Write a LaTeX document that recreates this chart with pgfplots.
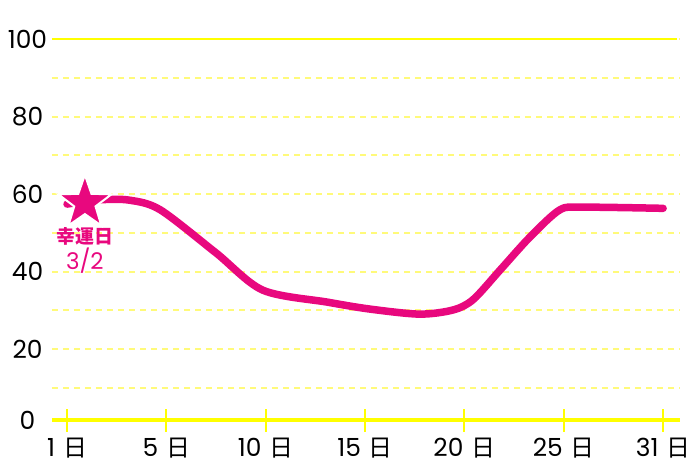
\documentclass[border=0pt]{standalone}
\usepackage{fontspec}
\setmainfont{Poppins}
\newfontfamily\cjk{Noto Sans CJK JP}
\usepackage{pgfplots}
\pgfplotsset{compat=1.18}
\definecolor{pinkc}{HTML}{E8087E}
\definecolor{ylw}{HTML}{FFFF00}
\definecolor{ylwl}{HTML}{FFFA7A}
\newcommand{\nichi}{\hspace{8bp}{\cjk\fontsize{24}{24}\selectfont 日}}
\pgfdeclareplotmark{fstar}{%
  \pgfpathmoveto{\pgfpointpolar{90}{\pgfplotmarksize}}%
  \pgfpathlineto{\pgfpointpolar{126}{0.40\pgfplotmarksize}}%
  \pgfpathlineto{\pgfpointpolar{162}{\pgfplotmarksize}}%
  \pgfpathlineto{\pgfpointpolar{198}{0.40\pgfplotmarksize}}%
  \pgfpathlineto{\pgfpointpolar{234}{\pgfplotmarksize}}%
  \pgfpathlineto{\pgfpointpolar{270}{0.40\pgfplotmarksize}}%
  \pgfpathlineto{\pgfpointpolar{306}{\pgfplotmarksize}}%
  \pgfpathlineto{\pgfpointpolar{342}{0.40\pgfplotmarksize}}%
  \pgfpathlineto{\pgfpointpolar{18}{\pgfplotmarksize}}%
  \pgfpathlineto{\pgfpointpolar{54}{0.40\pgfplotmarksize}}%
  \pgfpathclose
  \pgfusepathqfillstroke
}
\begin{document}
\begin{tikzpicture}
\useasboundingbox (-52bp,-47bp) rectangle (648bp,420bp);
\begin{axis}[
  at={(0,0)}, anchor=south west,
  scale only axis, width=628bp, height=381bp,
  xmin=-0.151, xmax=6.17, ymin=1.68, ymax=100,
  axis x line=bottom, axis y line=left,
  x axis line style={draw=ylw, line width=4bp, -},
  y axis line style={draw=none},
  xtick={0,1,2,3,4,5,6},
  xticklabels={1\nichi,5\nichi,10\nichi,15\nichi,20\nichi,25\nichi,31\nichi},
  xtick align=center, major tick length=23bp,
  xtick style={draw=ylw, line width=2bp},
  ytick={20,40,60,80,100}, minor ytick={10,30,50,70,90},
  ytick style={draw=none}, minor tick length=0pt,
  extra y ticks={1.68}, extra y tick labels={0},
  extra y tick style={grid=none, ytick style={draw=none}},
  ymajorgrids, yminorgrids,
  major grid style={ylwl, line width=2bp, dash pattern=on 6bp off 5bp},
  minor grid style={ylwl, line width=2bp, dash pattern=on 6bp off 5bp},
  /pgf/number format/assume math mode=true,
  xticklabel style={anchor=center, yshift=-17bp, font=\fontsize{25}{25}\selectfont, text=black},
  yticklabel style={anchor=center, xshift=-13bp, yshift=0bp, font=\fontsize{25}{25}\selectfont, text=black},
  clip=false,
]
\draw[ylw, line width=2.5bp] (axis cs:-0.151,100) -- (axis cs:6.14,100);
\addplot[pinkc, line width=7.5bp, line cap=round, line join=round, smooth, tension=0.5] coordinates {
(0,57.4) (0.33,58.5) (0.63,58.4) (0.94,55.9) (1.5,44.8) (1.97,35.2)
(2.62,32.1) (3.05,30.3) (3.55,29.0) (3.89,30.1) (4.09,32.8) (4.36,40.4)
(4.66,48.9) (4.96,55.9) (5.19,56.6) (6.0,56.3)
};
\addplot[only marks, mark=fstar, mark size=28bp, mark options={fill=pinkc, draw=white, line width=2bp}] coordinates {(0.18,57.7)};
\node[text=pinkc, align=center, inner sep=0pt] at (axis cs:0.18,45.5) {{\cjk\bfseries\fontsize{19}{19}\selectfont 幸運日}\\[2bp]{\fontsize{23}{23}\selectfont 3/2}};
\end{axis}
\end{tikzpicture}
\end{document}
